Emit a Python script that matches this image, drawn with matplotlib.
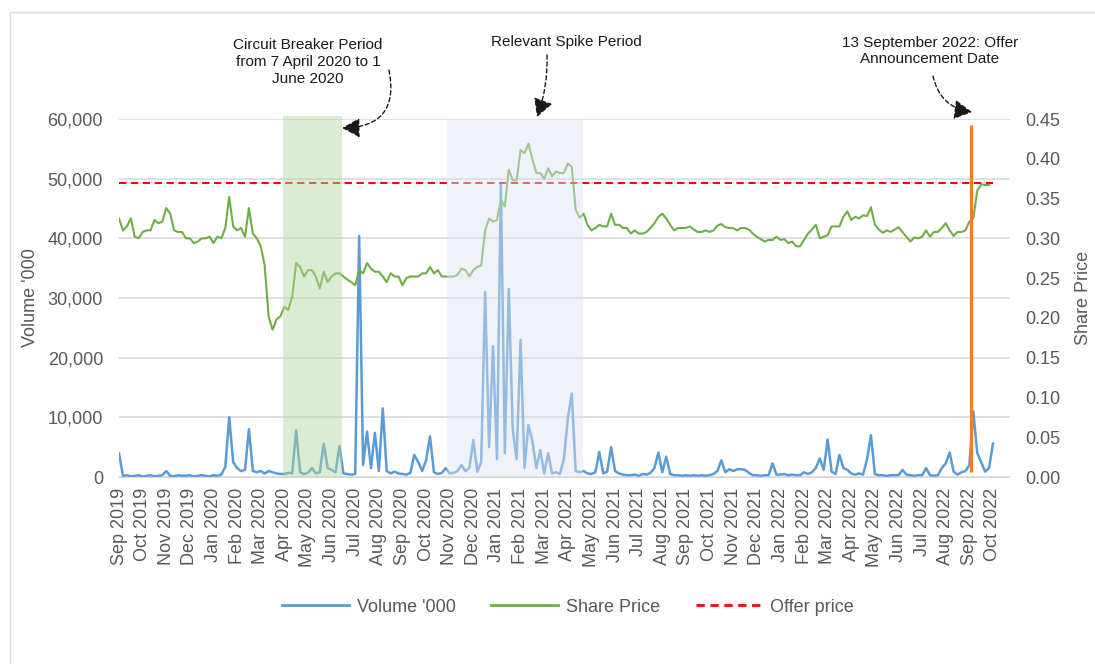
import numpy as np
import pandas as pd
import matplotlib
matplotlib.use("Agg")
import matplotlib.pyplot as plt
from matplotlib.lines import Line2D
from matplotlib.ticker import FuncFormatter

plt.rcParams['font.family'] = ['Liberation Sans', 'DejaVu Sans']

# share price (S$), one reading every sixth of a month starting Sep 2019
price = [
    0.325, 0.310, 0.315, 0.325, 0.302, 0.300,
    0.308, 0.310, 0.310, 0.323, 0.319, 0.321,
    0.338, 0.331, 0.310, 0.308, 0.308, 0.300,
    0.300, 0.294, 0.296, 0.300, 0.300, 0.302,
    0.294, 0.302, 0.300, 0.313, 0.352, 0.315,
    0.310, 0.313, 0.302, 0.338, 0.306, 0.300,
    0.290, 0.266, 0.202, 0.185, 0.198, 0.202,
    0.214, 0.210, 0.227, 0.269, 0.264, 0.252,
    0.260, 0.260, 0.252, 0.237, 0.258, 0.245,
    0.252, 0.256, 0.256, 0.252, 0.248, 0.245,
    0.241, 0.260, 0.256, 0.269, 0.262, 0.258,
    0.258, 0.252, 0.245, 0.256, 0.252, 0.252,
    0.241, 0.250, 0.252, 0.252, 0.252, 0.256,
    0.256, 0.264, 0.256, 0.260, 0.252, 0.252,
    0.252, 0.252, 0.254, 0.262, 0.260, 0.252,
    0.260, 0.264, 0.266, 0.310, 0.325, 0.321,
    0.323, 0.348, 0.340, 0.386, 0.373, 0.373,
    0.411, 0.407, 0.419, 0.400, 0.382, 0.382,
    0.375, 0.388, 0.378, 0.384, 0.382, 0.382,
    0.394, 0.390, 0.336, 0.326, 0.331, 0.317,
    0.310, 0.313, 0.317, 0.315, 0.315, 0.331,
    0.317, 0.317, 0.313, 0.313, 0.306, 0.310,
    0.306, 0.306, 0.308, 0.313, 0.319, 0.327,
    0.331, 0.325, 0.317, 0.310, 0.313, 0.313,
    0.313, 0.315, 0.311, 0.308, 0.308, 0.310,
    0.308, 0.310, 0.316, 0.318, 0.314, 0.313,
    0.313, 0.310, 0.313, 0.313, 0.311, 0.306,
    0.302, 0.299, 0.296, 0.298, 0.298, 0.302,
    0.298, 0.299, 0.294, 0.296, 0.290, 0.290,
    0.298, 0.306, 0.311, 0.317, 0.300, 0.302,
    0.304, 0.315, 0.315, 0.315, 0.327, 0.334,
    0.323, 0.327, 0.325, 0.329, 0.328, 0.339,
    0.317, 0.311, 0.307, 0.310, 0.308, 0.311,
    0.314, 0.308, 0.302, 0.296, 0.301, 0.300,
    0.302, 0.310, 0.302, 0.308, 0.308, 0.313,
    0.319, 0.310, 0.303, 0.308, 0.308, 0.310,
    0.321, 0.325, 0.360, 0.368, 0.367, 0.367,
]

# volume ('000 shares), one reading every sixth of a month
volume = [
    4000, 200, 300, 100, 200, 300,
    100, 200, 300, 100, 200, 300,
    1000, 200, 100, 300, 200, 200,
    300, 100, 200, 300, 200, 100,
    300, 200, 400, 1700, 10000, 2500,
    1500, 1000, 1200, 8000, 1000, 800,
    1000, 600, 1000, 800, 600, 500,
    500, 700, 600, 7800, 800, 500,
    700, 1500, 600, 800, 5600, 1500,
    1200, 800, 5200, 600, 500, 400,
    500, 40400, 2000, 7600, 1500, 7400,
    1000, 11500, 1000, 600, 900, 600,
    500, 400, 700, 3700, 2500, 1000,
    2800, 6800, 800, 500, 700, 1500,
    600, 700, 1000, 2000, 1000, 1500,
    6200, 900, 2500, 31000, 5000, 21900,
    3000, 49200, 4000, 31500, 8000, 3000,
    23000, 1500, 8700, 6000, 1500, 4500,
    600, 4000, 600, 800, 500, 3000,
    9800, 14000, 1000, 800, 1000, 600,
    500, 800, 4200, 600, 900, 5000,
    1000, 600, 400, 300, 300, 400,
    200, 500, 400, 700, 1500, 4100,
    800, 3400, 500, 300, 300, 200,
    300, 200, 300, 200, 300, 200,
    300, 500, 1000, 2800, 800, 1300,
    1000, 1300, 1300, 1200, 700, 300,
    300, 200, 300, 300, 2300, 400,
    400, 500, 300, 400, 300, 300,
    800, 500, 800, 1500, 3100, 1200,
    6300, 900, 500, 3700, 1500, 1200,
    600, 400, 600, 400, 3000, 7000,
    500, 300, 300, 200, 300, 300,
    300, 1200, 400, 300, 200, 300,
    300, 1500, 300, 200, 300, 1500,
    2300, 4100, 900, 400, 800, 1000,
    2000, 11000, 4000, 2500, 900, 1500,
    5600,
]

offer_price = 0.37
month_labels = list(pd.date_range('2019-09-01', '2022-10-01', freq='MS').strftime('%b %Y'))

# periods in months from the first trading day shown
circuit_period = (6.94, 9.44)
spike_period = (13.89, 19.64)
announcement = 36.05

BLUE = '#5B9BD5'
GREEN = '#70AD47'
RED = '#FF0000'
ORANGE = '#ED7D31'
GRID = '#D9D9D9'
TXT = '#595959'

x_price = np.arange(len(price)) / 6
x_vol = np.arange(len(volume)) / 6

W, H = 1095, 664
fig = plt.figure(figsize=(W / 100, H / 100), dpi=100)
ax = fig.add_axes([119 / W, 1 - 477 / H, 891 / W, 358 / H])
ax2 = ax.twinx()

# volume on the left axis
ax.plot(x_vol, volume, color=BLUE, lw=1.8, zorder=2)
ax.set_xlim(0, 37.72)
ax.set_ylim(0, 60000)
ax.set_yticks(np.arange(0, 60001, 10000))
ax.yaxis.set_major_formatter(FuncFormatter(lambda v, p: f'{v:,.0f}'))
ax.set_xticks(np.arange(len(month_labels)))
ax.set_xticklabels(month_labels, rotation=90)
ax.grid(axis='y', color=GRID, lw=1.2)
ax.set_axisbelow(True)
ax.tick_params(axis='both', length=0, labelsize=13, colors=TXT)
ax.tick_params(axis='y', pad=11.5)
ax.tick_params(axis='x', pad=8)
ax.set_ylabel("Volume '000", fontsize=13, color=TXT)
ax.yaxis.set_label_coords(-0.09, 0.5)
for s in ['top', 'left', 'right']:
    ax.spines[s].set_visible(False)
ax.spines['bottom'].set_color(GRID)

# share price on the right axis
ax2.plot(x_price, price, color=GREEN, lw=1.5, zorder=2)
ax2.hlines(offer_price, 0, x_vol[-1], colors=RED, lw=1.5, linestyles=(0, (3.5, 2.2)), zorder=2)
ax2.set_ylim(0, 0.45)
ax2.set_yticks(np.arange(0, 0.451, 0.05))
ax2.yaxis.set_major_formatter(FuncFormatter(lambda v, p: f'{v:.2f}'))
ax2.tick_params(axis='y', length=0, labelsize=13, colors=TXT, pad=11)
ax2.set_ylabel('Share Price', fontsize=13, color=TXT)
ax2.yaxis.set_label_coords(1.073, 0.5)
for s in ax2.spines.values():
    s.set_visible(False)

# shaded periods sit over the lines, washing them out
ax2.axvspan(*circuit_period, ymin=0, ymax=1.007, facecolor=(0.70, 0.84, 0.62), alpha=0.45,
            lw=0, zorder=4, clip_on=False)
ax2.axvspan(*spike_period, ymin=0, ymax=1.0, facecolor=(0.87, 0.894, 0.95), alpha=0.45,
            lw=0, zorder=4)

# announcement date marker
ax2.vlines(announcement, 900, 59000, colors=ORANGE, lw=2.3, zorder=5, transform=ax.transData)

# annotations
fig.text(308 / W, 1 - 62 / H, 'Circuit Breaker Period\nfrom 7 April 2020 to 1\nJune 2020',
         ha='center', va='center', fontsize=11, color='#1a1a1a', linespacing=1.27)
fig.text(566 / W, 1 - 42 / H, 'Relevant Spike Period', ha='center', va='center',
         fontsize=11, color='#1a1a1a')
fig.text(930 / W, 1 - 51 / H, '13 September 2022: Offer\nAnnouncement Date', ha='center',
         va='center', fontsize=11, color='#1a1a1a', linespacing=1.27)

arrow_style = '-|>,head_length=0.55,head_width=0.3'
for start, end, rad in [((389, 594), (342, 536), -0.6),
                        ((547, 609), (537, 547), -0.1),
                        ((933, 588), (972, 552), 0.35)]:
    ax.annotate('', xy=end, xytext=start, xycoords='figure pixels', textcoords='figure pixels',
                annotation_clip=False,
                arrowprops=dict(arrowstyle=arrow_style, color='#1a1a1a', lw=1.0,
                                linestyle=(0, (3, 2)), mutation_scale=20,
                                connectionstyle=f'arc3,rad={rad}', shrinkA=0, shrinkB=0))

# legend
handles = [Line2D([], [], color=BLUE, lw=2),
           Line2D([], [], color=GREEN, lw=2),
           Line2D([], [], color=RED, lw=2, linestyle=(0, (3, 2)))]
fig.legend(handles, ["Volume '000", 'Share Price', 'Offer price'], loc='center',
           bbox_to_anchor=(568 / W, 1 - 607 / H), ncol=3, frameon=False, fontsize=13,
           labelcolor=TXT, handlelength=3.7, handletextpad=0.4, columnspacing=2.0)

# chart area border
fig.add_artist(Line2D([10 / W, 10 / W], [0, 1 - 12 / H], transform=fig.transFigure, color=GRID, lw=1))
fig.add_artist(Line2D([10 / W, 1], [1 - 12 / H, 1 - 12 / H], transform=fig.transFigure, color=GRID, lw=1))

fig.savefig('out.png', dpi=100)
